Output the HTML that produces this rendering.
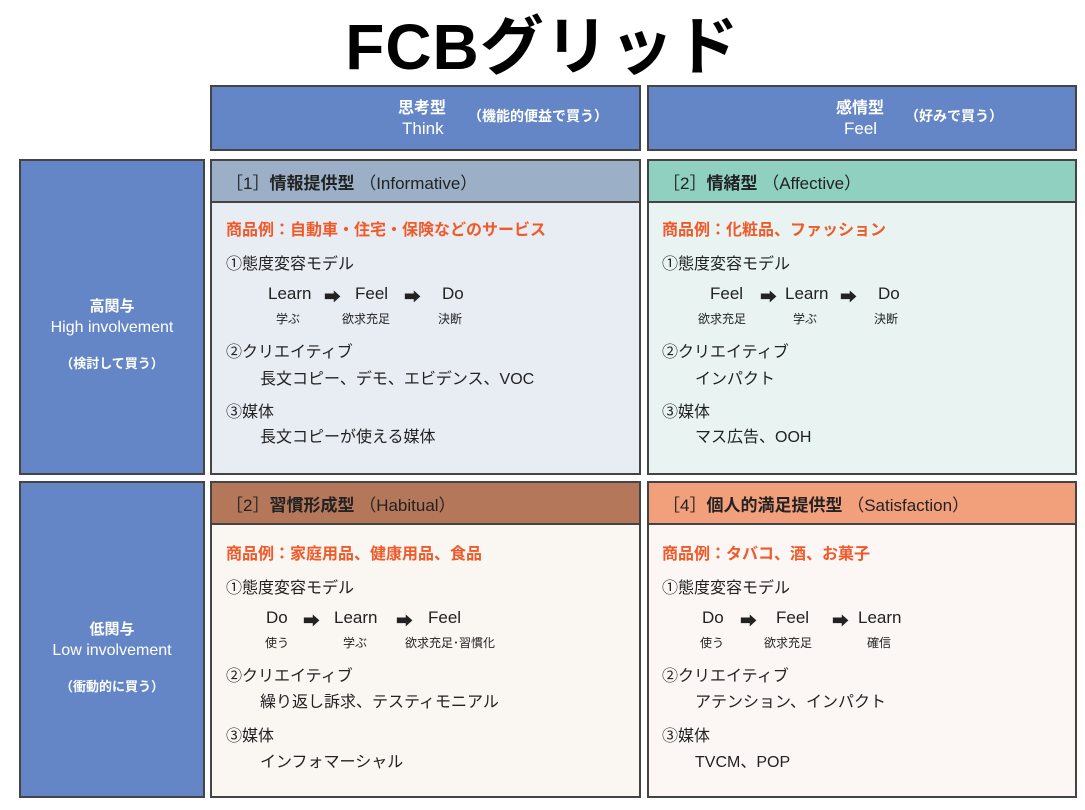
<!DOCTYPE html>
<html><head><meta charset="utf-8"><style>
body{margin:0;width:1085px;height:810px;background:#fff;position:relative;font-family:"Liberation Sans","Noto Sans CJK JP",sans-serif;color:#222;overflow:hidden}
.a{position:absolute;white-space:nowrap}
.box{position:absolute;box-sizing:border-box;border:2px solid #444}
.hd{background:#6586c6;color:#fff}
.title{left:0;width:1085px;top:-4px;text-align:center;font-size:64px;font-weight:bold;color:#000;letter-spacing:1px}
.qh{position:absolute;left:0;right:0;top:0;height:42px;border-bottom:2px solid #444;box-sizing:border-box;font-size:17px;padding:8px 0 0 14px;font-weight:bold}
.t{font-size:16px}
.or{color:#f05a2a;font-weight:bold;font-size:16px}
.s{font-size:12px}
.f{font-size:17px}
</style></head><body>
<div class="a title">FCBグリッド</div>

<div class="box hd" style="left:210px;top:85px;width:431px;height:66px"></div>
<div class="a" style="left:398px;top:94px;color:#fff;font-size:16px;font-weight:bold">思考型</div>
<div class="a" style="left:402px;top:119px;color:#fff;font-size:17px">Think</div>
<div class="a" style="left:468px;top:106px;color:#fff;font-size:14px;font-weight:bold">（機能的便益で買う）</div>
<div class="box hd" style="left:647px;top:85px;width:430px;height:66px"></div>
<div class="a" style="left:836px;top:94px;color:#fff;font-size:16px;font-weight:bold">感情型</div>
<div class="a" style="left:844px;top:119px;color:#fff;font-size:17px">Feel</div>
<div class="a" style="left:905px;top:106px;color:#fff;font-size:14px;font-weight:bold">（好みで買う）</div>

<div class="box hd" style="left:19px;top:159px;width:186px;height:316px"></div>
<div class="a" style="left:19px;width:186px;text-align:center;top:295px;color:#fff;font-size:15px;font-weight:bold">高関与</div>
<div class="a" style="left:19px;width:186px;text-align:center;top:319px;color:#fff;font-size:16px">High involvement</div>
<div class="a" style="left:19px;width:186px;text-align:center;top:353px;color:#fff;font-size:13px;font-weight:bold">（検討して買う）</div>
<div class="box hd" style="left:19px;top:481px;width:186px;height:317px"></div>
<div class="a" style="left:19px;width:186px;text-align:center;top:618px;color:#fff;font-size:15px;font-weight:bold">低関与</div>
<div class="a" style="left:19px;width:186px;text-align:center;top:642px;color:#fff;font-size:16px">Low involvement</div>
<div class="a" style="left:19px;width:186px;text-align:center;top:676px;color:#fff;font-size:13px;font-weight:bold">（衝動的に買う）</div>

<!-- Q1 -->
<div class="box" style="left:210px;top:159px;width:431px;height:316px;background:#e8ecf3"><div class="qh" style="background:#9bb0c6"><span style="font-weight:normal">［1］</span>情報提供型 <span style="font-weight:normal">（Informative）</span></div></div>
<div class="a or" style="left:226px;top:216px">商品例：自動車・住宅・保険などのサービス</div>
<div class="a t" style="left:226px;top:250px">①態度変容モデル</div>
<div class="a f" style="left:268px;top:284px">Learn</div><div class="a f" style="left:324px;top:283px">➡</div>
<div class="a f" style="left:355px;top:284px">Feel</div><div class="a f" style="left:404px;top:283px">➡</div>
<div class="a f" style="left:442px;top:284px">Do</div>
<div class="a s" style="left:276px;top:310px">学ぶ</div><div class="a s" style="left:342px;top:310px">欲求充足</div><div class="a s" style="left:438px;top:310px">決断</div>
<div class="a t" style="left:226px;top:338px">②クリエイティブ</div>
<div class="a t" style="left:260px;top:365px">長文コピー、デモ、エビデンス、VOC</div>
<div class="a t" style="left:226px;top:398px">③媒体</div>
<div class="a t" style="left:260px;top:423px">長文コピーが使える媒体</div>

<!-- Q2 -->
<div class="box" style="left:647px;top:159px;width:430px;height:316px;background:#e8f3f2"><div class="qh" style="background:#8fd0c1"><span style="font-weight:normal">［2］</span>情緒型 <span style="font-weight:normal">（Affective）</span></div></div>
<div class="a or" style="left:662px;top:216px">商品例：化粧品、ファッション</div>
<div class="a t" style="left:662px;top:250px">①態度変容モデル</div>
<div class="a f" style="left:710px;top:284px">Feel</div><div class="a f" style="left:760px;top:283px">➡</div>
<div class="a f" style="left:785px;top:284px">Learn</div><div class="a f" style="left:840px;top:283px">➡</div>
<div class="a f" style="left:878px;top:284px">Do</div>
<div class="a s" style="left:698px;top:310px">欲求充足</div><div class="a s" style="left:793px;top:310px">学ぶ</div><div class="a s" style="left:874px;top:310px">決断</div>
<div class="a t" style="left:662px;top:338px">②クリエイティブ</div>
<div class="a t" style="left:695px;top:365px">インパクト</div>
<div class="a t" style="left:662px;top:398px">③媒体</div>
<div class="a t" style="left:695px;top:423px">マス広告、OOH</div>

<!-- Q3 -->
<div class="box" style="left:210px;top:481px;width:431px;height:317px;background:#faf6f2"><div class="qh" style="background:#b4775a"><span style="font-weight:normal">［2］</span>習慣形成型 <span style="font-weight:normal">（Habitual）</span></div></div>
<div class="a or" style="left:226px;top:540px">商品例：家庭用品、健康用品、食品</div>
<div class="a t" style="left:226px;top:574px">①態度変容モデル</div>
<div class="a f" style="left:266px;top:608px">Do</div><div class="a f" style="left:303px;top:607px">➡</div>
<div class="a f" style="left:334px;top:608px">Learn</div><div class="a f" style="left:396px;top:607px">➡</div>
<div class="a f" style="left:428px;top:608px">Feel</div>
<div class="a s" style="left:265px;top:634px">使う</div><div class="a s" style="left:343px;top:634px">学ぶ</div><div class="a s" style="left:405px;top:634px">欲求充足･習慣化</div>
<div class="a t" style="left:226px;top:662px">②クリエイティブ</div>
<div class="a t" style="left:260px;top:688px">繰り返し訴求、テスティモニアル</div>
<div class="a t" style="left:226px;top:722px">③媒体</div>
<div class="a t" style="left:260px;top:748px">インフォマーシャル</div>

<!-- Q4 -->
<div class="box" style="left:647px;top:481px;width:430px;height:317px;background:#fcf7f4"><div class="qh" style="background:#f29f7c"><span style="font-weight:normal">［4］</span>個人的満足提供型 <span style="font-weight:normal">（Satisfaction）</span></div></div>
<div class="a or" style="left:662px;top:540px">商品例：タバコ、酒、お菓子</div>
<div class="a t" style="left:662px;top:574px">①態度変容モデル</div>
<div class="a f" style="left:702px;top:608px">Do</div><div class="a f" style="left:740px;top:607px">➡</div>
<div class="a f" style="left:776px;top:608px">Feel</div><div class="a f" style="left:832px;top:607px">➡</div>
<div class="a f" style="left:858px;top:608px">Learn</div>
<div class="a s" style="left:700px;top:634px">使う</div><div class="a s" style="left:764px;top:634px">欲求充足</div><div class="a s" style="left:867px;top:634px">確信</div>
<div class="a t" style="left:662px;top:662px">②クリエイティブ</div>
<div class="a t" style="left:695px;top:688px">アテンション、インパクト</div>
<div class="a t" style="left:662px;top:722px">③媒体</div>
<div class="a t" style="left:695px;top:748px">TVCM、POP</div>
</body></html>
